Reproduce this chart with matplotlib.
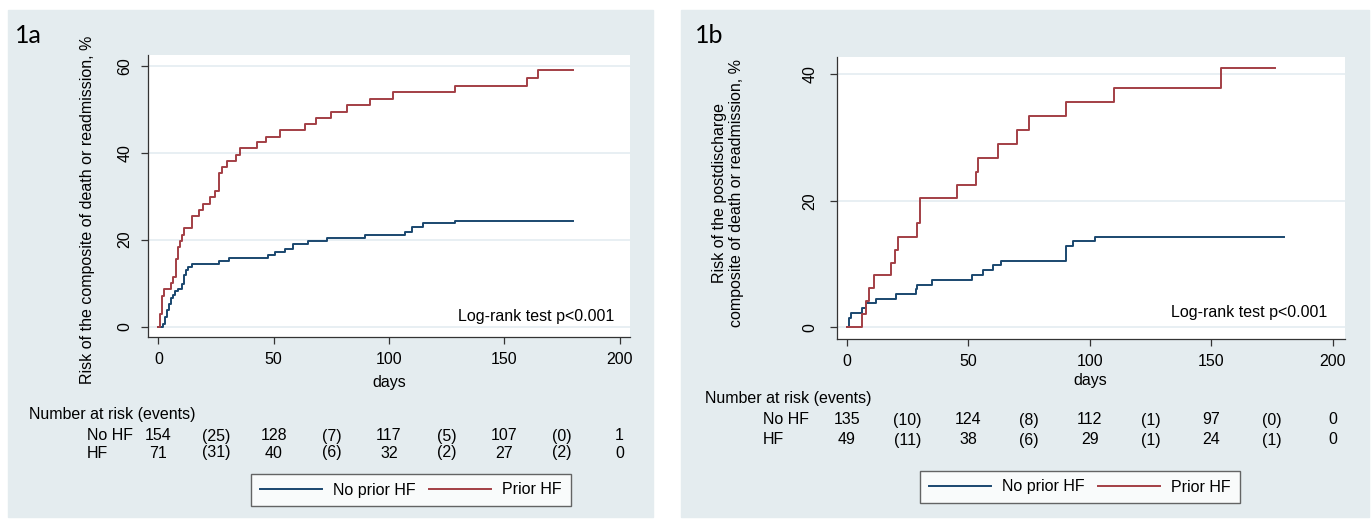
import numpy as np
import matplotlib
matplotlib.use("Agg")
import matplotlib.pyplot as plt
import matplotlib.transforms as mtransforms
from matplotlib.patches import Rectangle
from matplotlib.lines import Line2D

plt.rcParams['font.family'] = ['Liberation Sans', 'DejaVu Sans']

# ---- data ----
# panel 1a: composite of death or readmission (step times in days, cumulative %)
a_nohf_days = [0, 2.2, 2.9, 3.6, 4.6, 5.3, 6.2, 7.2, 8.4, 10.1, 11.1, 12.0, 13.0, 14.7,
               26.4, 30.8, 47.5, 50.6, 54.9, 58.5, 65.0, 73.0, 89.7, 106.9, 109.8, 114.9,
               128.6, 180]
a_nohf_risk = [0, 0.6, 2.1, 3.8, 5.2, 6.5, 7.3, 8.1, 8.6, 9.8, 11.8, 13.0, 13.7, 14.4,
               15.2, 15.7, 16.5, 17.1, 17.8, 19.0, 19.7, 20.3, 21.1, 21.7, 23.0, 23.8,
               24.4, 24.4]
a_hf_days = [0, 0.7, 1.4, 2.5, 5.5, 6.5, 7.5, 8.4, 9.4, 10.3, 11.3, 14.6, 17.5, 19.5,
             22.5, 24.6, 26.4, 27.5, 29.6, 33.5, 35.5, 42.8, 46.8, 52.7, 63.6, 68.5, 74.9,
             81.8, 91.6, 101.9, 128.6, 159.7, 164.7, 180]
a_hf_risk = [0, 2.9, 7.1, 8.6, 10.0, 11.4, 15.5, 18.3, 19.7, 21.1, 22.6, 25.5, 26.9, 28.2,
             29.8, 31.1, 35.3, 36.7, 38.1, 39.5, 41.0, 42.4, 43.7, 45.2, 46.6, 48.0, 49.4,
             50.9, 52.3, 53.9, 55.4, 57.2, 59.1, 59.1]

# panel 1b: postdischarge composite
b_nohf_days = [0, 1.0, 1.8, 6.2, 7.9, 11.9, 20.3, 28.4, 29.0, 34.9, 51.4, 56.2, 60.3,
               63.3, 90.1, 93.2, 102.2, 180]
b_nohf_risk = [0, 1.5, 2.2, 3.0, 3.8, 4.5, 5.3, 6.0, 6.7, 7.5, 8.3, 9.1, 9.8, 10.5,
               12.8, 13.6, 14.3, 14.3]
b_hf_days = [0, 6.2, 7.9, 9.2, 11.0, 18.1, 19.9, 21.0, 28.8, 29.9, 45.1, 53.0, 54.0,
             62.1, 70.1, 75.1, 90.1, 110.0, 154.1, 176]
b_hf_risk = [0, 2.05, 4.2, 6.2, 8.2, 10.2, 12.2, 14.3, 16.4, 20.5, 22.5, 24.6, 26.7,
             28.9, 31.2, 33.4, 35.6, 37.8, 40.9, 40.9]

# risk tables: numbers at risk at 0/50/100/150/200 days, events in between
risk_days = [0, 50, 100, 150, 200]
event_days = [25, 75, 125, 175]
a_nohf_n = [154, 128, 117, 107, 1]
a_nohf_ev = [25, 7, 5, 0]
a_hf_n = [71, 40, 32, 27, 0]
a_hf_ev = [31, 6, 2, 2]
b_nohf_n = [135, 124, 112, 97, 0]
b_nohf_ev = [10, 8, 1, 0]
b_hf_n = [49, 38, 29, 24, 0]
b_hf_ev = [11, 6, 1, 1]

NAVY = '#1A476F'
MAROON = '#A33F45'
BG = '#E4ECEF'
FS = 11.5

W, H = 1372, 520
fig = plt.figure(figsize=(W / 100, H / 100), dpi=100)
fig.patch.set_facecolor('white')


def fx(px):
    return px / W


def fy(py):
    return 1 - py / H


# panel backgrounds
fig.patches.append(Rectangle((fx(8), fy(517)), fx(653) - fx(8), fy(10) - fy(517),
                             transform=fig.transFigure, color=BG, zorder=-5))
fig.patches.append(Rectangle((fx(681), fy(517)), fx(1369) - fx(681), fy(10) - fy(517),
                             transform=fig.transFigure, color=BG, zorder=-5))


def make_axes(left, top, right, bottom, xlim, ylim, yticks):
    ax = fig.add_axes([fx(left), fy(bottom), fx(right) - fx(left), fy(top) - fy(bottom)])
    ax.set_facecolor('white')
    ax.set_xlim(*xlim)
    ax.set_ylim(*ylim)
    ax.set_xticks([0, 50, 100, 150, 200])
    ax.set_yticks(yticks)
    for s in ['top', 'right']:
        ax.spines[s].set_visible(False)
    for s in ['left', 'bottom']:
        ax.spines[s].set_color('#333333')
        ax.spines[s].set_linewidth(0.9)
    ax.tick_params(direction='out', length=5, width=0.9, color='#333333',
                   labelsize=FS, pad=6)
    for lab in ax.get_yticklabels():
        lab.set_rotation(90)
        lab.set_va('center')
    ax.yaxis.grid(True, color='#E6EEF2', lw=1.3)
    ax.set_axisbelow(True)
    return ax


def km(ax, days, risk, color):
    ax.step(days, risk, where='post', color=color, lw=1.4, zorder=3)


def risk_table(ax, title_x, title_y, label_x, row_y, rows):
    tr = mtransforms.blended_transform_factory(ax.transData, fig.transFigure)
    fig.text(fx(title_x), fy(title_y), 'Number at risk (events)', fontsize=FS,
             ha='left', va='center')
    for (name, nvals, evals), y in zip(rows, row_y):
        fig.text(fx(label_x), fy(y), name, fontsize=FS, ha='left', va='center')
        for d, n in zip(risk_days, nvals):
            ax.text(d, fy(y), str(n), transform=tr, fontsize=FS, ha='center', va='center')
        for d, e in zip(event_days, evals):
            ax.text(d, fy(y), '(%d)' % e, transform=tr, fontsize=FS, ha='center', va='center')


def legend(ax, cx, cy):
    handles = [Line2D([], [], color=NAVY, lw=1.4), Line2D([], [], color=MAROON, lw=1.4)]
    leg = ax.legend(handles, ['No prior HF', 'Prior HF'], loc='center',
                    bbox_to_anchor=(fx(cx), fy(cy)), bbox_transform=fig.transFigure,
                    ncol=2, fontsize=FS, frameon=True, fancybox=False,
                    handlelength=3.9, handletextpad=0.7, columnspacing=0.8,
                    borderpad=0.55, borderaxespad=0)
    leg.get_frame().set_edgecolor('#404040')
    leg.get_frame().set_linewidth(1.0)


# ---------- panel 1a ----------
ax1 = make_axes(148, 55, 630, 337, (-4.5, 204.5), (-2.4, 62.5), [0, 20, 40, 60])
km(ax1, a_nohf_days, a_nohf_risk, NAVY)
km(ax1, a_hf_days, a_hf_risk, MAROON)
fig.text(fx(15), fy(43), '1a', fontsize=18, family=['Lato', 'DejaVu Sans'],
         ha='left', va='baseline')
fig.text(fx(88), fy(210), 'Risk of the composite of death or readmission, %',
         rotation=90, fontsize=FS, ha='center', va='center')
tr1 = mtransforms.blended_transform_factory(ax1.transData, fig.transFigure)
ax1.text(100, fy(383), 'days', transform=tr1, fontsize=FS, ha='center', va='center')
fig.text(fx(614), fy(317), 'Log-rank test p<0.001', fontsize=FS, ha='right', va='center')
risk_table(ax1, 29, 415, 87, [436, 453],
           [('No HF', a_nohf_n, a_nohf_ev), ('HF', a_hf_n, a_hf_ev)])
legend(ax1, 411, 490)

# ---------- panel 1b ----------
ax2 = make_axes(837, 57, 1345, 339, (-4.1, 205), (-1.85, 42.7), [0, 20, 40])
ax2.tick_params(axis='y', pad=9)
km(ax2, b_nohf_days, b_nohf_risk, NAVY)
km(ax2, b_hf_days, b_hf_risk, MAROON)
fig.text(fx(695), fy(43), '1b', fontsize=18, family=['Lato', 'DejaVu Sans'],
         ha='left', va='baseline')
fig.text(fx(728), fy(193), 'Risk of the postdischarge\ncomposite of death or readmission, %',
         rotation=90, fontsize=FS, ha='center', va='center', multialignment='center')
tr2 = mtransforms.blended_transform_factory(ax2.transData, fig.transFigure)
ax2.text(100, fy(381), 'days', transform=tr2, fontsize=FS, ha='center', va='center')
fig.text(fx(1327), fy(312), 'Log-rank test p<0.001', fontsize=FS, ha='right', va='center')
risk_table(ax2, 705, 398, 763, [420, 440],
           [('No HF', b_nohf_n, b_nohf_ev), ('HF', b_hf_n, b_hf_ev)])
legend(ax2, 1080, 487)

fig.savefig('out.png', dpi=100, facecolor='white')
